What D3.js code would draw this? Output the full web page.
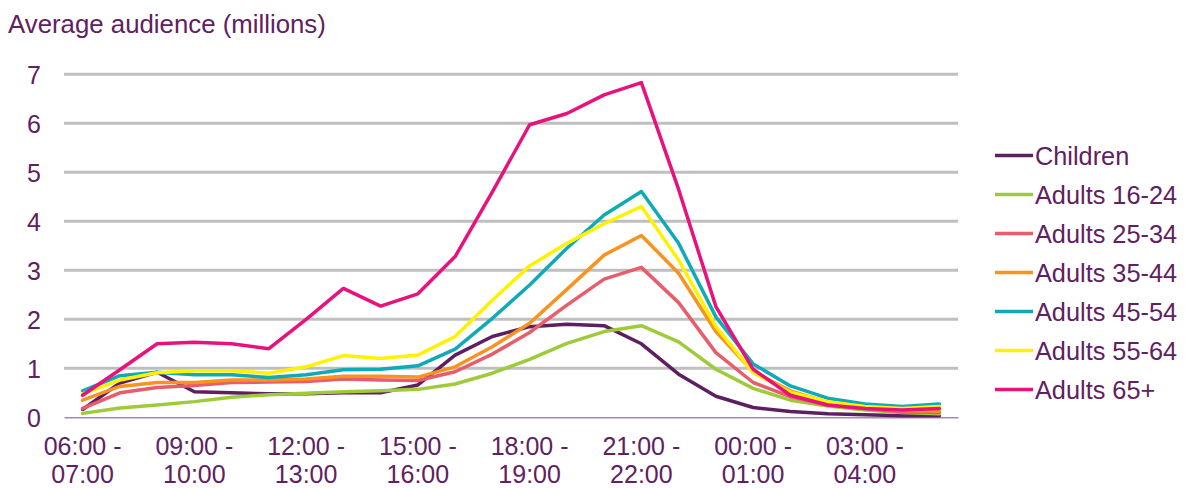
<!DOCTYPE html>
<html>
<head>
<meta charset="utf-8">
<script src="https://cdn.jsdelivr.net/npm/d3@7"></script>
<style>
  html, body { margin: 0; padding: 0; background: #ffffff; }
  svg { display: block; }
  text { font-family: "Liberation Sans", Arial, Helvetica, sans-serif; }
</style>
</head>
<body>
<svg id="chart" width="1189" height="489"></svg>
<script>
// ---- Data ----
const hours = ["06:00","07:00","08:00","09:00","10:00","11:00","12:00","13:00","14:00","15:00","16:00","17:00",
               "18:00","19:00","20:00","21:00","22:00","23:00","00:00","01:00","02:00","03:00","04:00","05:00"];
const nextHours = ["07:00","08:00","09:00","10:00","11:00","12:00","13:00","14:00","15:00","16:00","17:00","18:00",
                   "19:00","20:00","21:00","22:00","23:00","00:00","01:00","02:00","03:00","04:00","05:00","06:00"];
const categories = hours.map((h, i) => h + " - " + nextHours[i]);

const seriesNames = ["Children","Adults 16-24","Adults 25-34","Adults 35-44","Adults 45-54","Adults 55-64","Adults 65+"];
const seriesColors = ["#5e1f62","#9fcb3b","#e85d6c","#f7931e","#0faab8","#fff200","#e8127c"];

const children  = [0.16,0.70,0.92,0.52,0.50,0.48,0.48,0.50,0.50,0.66,1.27,1.65,1.85,1.90,1.87,1.50,0.88,0.43,0.20,0.12,0.07,0.05,0.03,0.03];
const adults1624 = [0.08,0.19,0.25,0.32,0.41,0.46,0.49,0.52,0.54,0.57,0.68,0.90,1.18,1.51,1.75,1.87,1.54,0.98,0.59,0.35,0.23,0.15,0.10,0.07];
const adults2534 = [0.18,0.50,0.61,0.65,0.71,0.72,0.73,0.78,0.76,0.75,0.93,1.29,1.73,2.29,2.82,3.06,2.34,1.32,0.71,0.42,0.25,0.18,0.11,0.10];
const adults3544 = [0.35,0.63,0.71,0.71,0.76,0.76,0.78,0.84,0.84,0.82,1.03,1.44,1.92,2.61,3.31,3.71,2.94,1.75,0.93,0.54,0.31,0.20,0.14,0.13];
const adults4554 = [0.54,0.85,0.92,0.87,0.87,0.81,0.87,0.97,0.98,1.05,1.39,2.02,2.70,3.45,4.13,4.61,3.55,2.05,1.09,0.64,0.39,0.27,0.22,0.27];
const adults5564 = [0.48,0.76,0.91,0.95,0.95,0.90,1.03,1.26,1.20,1.27,1.65,2.39,3.09,3.55,3.95,4.30,3.21,1.85,0.91,0.51,0.32,0.22,0.18,0.22];
const adults65p  = [0.45,0.97,1.50,1.53,1.50,1.40,2.00,2.63,2.27,2.52,3.28,4.60,5.97,6.20,6.58,6.83,4.65,2.26,0.98,0.45,0.25,0.18,0.15,0.18];
const seriesValues = [children, adults1624, adults2534, adults3544, adults4554, adults5564, adults65p];

const yTicks = [0,1,2,3,4,5,6,7];
const yTitle = "Average audience (millions)";

// ---- Layout ----
const textColor = "#5f2160";
const svg = d3.select("#chart");
const plot = { left: 64, right: 958, top: 74.3, bottom: 417.3 };

const x = d3.scaleBand().domain(categories).range([plot.left, plot.right]).padding(0);
const y = d3.scaleLinear().domain([0, 7]).range([plot.bottom, plot.top]);
const xc = c => x(c) + x.bandwidth() / 2;

// title
svg.append("text")
  .attr("x", 8).attr("y", 33)
  .attr("font-size", 25.8).attr("fill", textColor)
  .text(yTitle);

// gridlines
svg.append("g").selectAll("line")
  .data(yTicks.filter(t => t > 0))
  .join("line")
  .attr("x1", plot.left).attr("x2", plot.right)
  .attr("y1", d => y(d)).attr("y2", d => y(d))
  .attr("stroke", "#bfbfbf").attr("stroke-width", 3);

// y axis labels
const yAxis = d3.axisLeft(y).tickValues(yTicks).tickSize(0).tickPadding(0).tickFormat(d3.format("d"));
const yG = svg.append("g").attr("transform", `translate(${plot.left - 23},0)`).call(yAxis);
yG.select(".domain").remove();
yG.selectAll("text").attr("font-size", 25).attr("fill", textColor)
  .attr("font-family", "'Liberation Sans', Arial, sans-serif").attr("dy", "0.35em");

// x axis
const xAxis = d3.axisBottom(x).tickSize(0).tickFormat("");
const xG = svg.append("g").attr("transform", `translate(0,${plot.bottom})`).call(xAxis);
xG.select(".domain").attr("stroke", "#a58cab").attr("stroke-width", 1.5);

// x labels (every 3rd category, two lines)
const labelCats = categories.filter((c, i) => i % 3 === 0);
const xl = svg.append("g").selectAll("text").data(labelCats).join("text")
  .attr("x", d => xc(d))
  .attr("text-anchor", "middle")
  .attr("font-size", 25).attr("fill", textColor);
xl.append("tspan").attr("x", d => xc(d)).attr("y", 455).text(d => d.split(" - ")[0] + " -");
xl.append("tspan").attr("x", d => xc(d)).attr("y", 483).text(d => d.split(" - ")[1]);

// lines
const line = d3.line().x((d, i) => xc(categories[i])).y(d => y(d)).curve(d3.curveLinear);
svg.append("g").selectAll("path")
  .data(seriesValues)
  .join("path")
  .attr("d", d => line(d))
  .attr("fill", "none")
  .attr("stroke", (d, i) => seriesColors[i])
  .attr("stroke-width", 3.5)
  .attr("stroke-linejoin", "round")
  .attr("stroke-linecap", "round");

// legend
const lg = svg.append("g").selectAll("g").data(seriesNames).join("g")
  .attr("transform", (d, i) => `translate(995,${155.5 + i * 39})`);
lg.append("line").attr("x1", 0).attr("x2", 38).attr("y1", 0).attr("y2", 0)
  .attr("stroke", (d, i) => seriesColors[i]).attr("stroke-width", 3.5);
lg.append("text").attr("x", 40).attr("y", 9.5)
  .attr("font-size", 25.3).attr("fill", textColor).text(d => d);
</script>
</body>
</html>
